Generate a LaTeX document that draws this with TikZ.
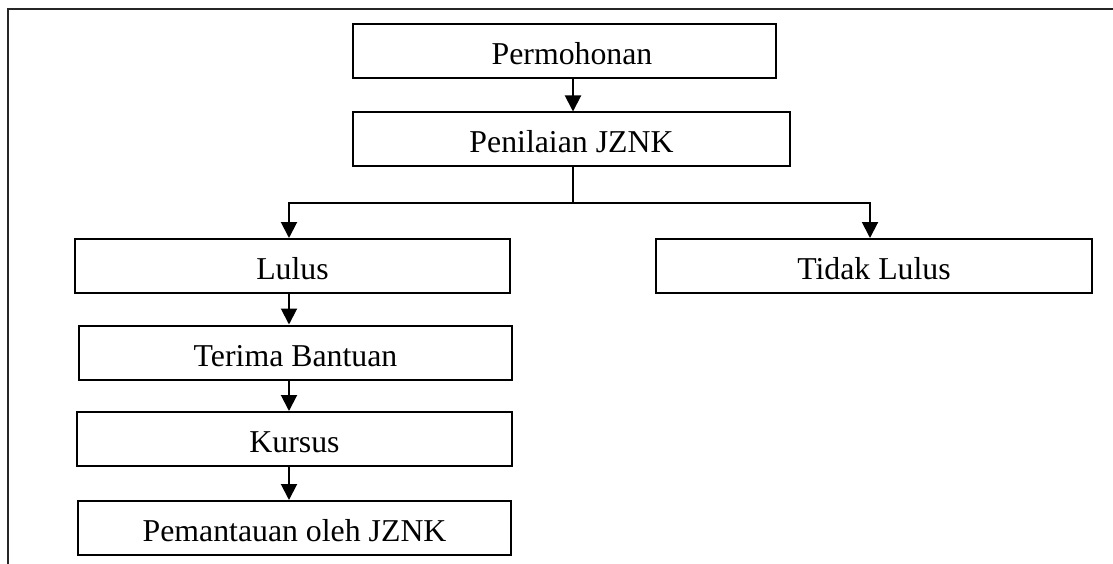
\documentclass[tikz,border=0pt]{standalone}
\usepackage{fontspec}
\setmainfont{Liberation Serif}
\usetikzlibrary{arrows.meta}
\begin{document}
\begin{tikzpicture}[x=1pt,y=-1pt,
  boxnode/.style={draw=black, line width=2pt, rectangle, inner sep=0pt,
    minimum height=54pt, text height=27pt, text depth=0pt,
    font=\fontsize{31.8}{38}\selectfont},
  conn/.style={draw=black, line width=2pt},
  arr/.style={conn, -{Triangle[length=16pt,width=16pt]}},
  frameline/.style={draw=black!85, line width=2.6pt}]
\useasboundingbox (0,0) rectangle (1113,564);
\draw[frameline] (1113,9) -- (8,9) -- (8,564);

\node[boxnode, minimum width=423pt] (perm) at (564.5,51.5) {\hspace*{15pt}Permohonan};
\node[boxnode, minimum width=437pt] (pen) at (571.5,139.5) {Penilaian JZNK};
\node[boxnode, minimum width=435pt] (lulus) at (292.5,266) {Lulus};
\node[boxnode, minimum width=436pt] (tidak) at (874,266) {Tidak Lulus};
\node[boxnode, minimum width=433pt] (terima) at (295.5,352.5) {Terima Bantuan};
\node[boxnode, minimum width=435pt] (kursus) at (294.5,439) {Kursus};
\node[boxnode, minimum width=433pt] (pantau) at (294.5,528) {Pemantauan oleh JZNK};

\coordinate (c1) at (573,0);
\coordinate (cl) at (289,0);
\coordinate (cr) at (870,0);
\coordinate (jy) at (0,203);

\draw[arr] (perm.south -| c1) -- (pen.north -| c1);
\draw[conn] (pen.south -| c1) -- (jy -| c1);
\draw[arr] (jy -| c1) -- (jy -| cl) -- (lulus.north -| cl);
\draw[arr] (jy -| c1) -- (jy -| cr) -- (tidak.north -| cr);
\draw[arr] (lulus.south -| cl) -- (terima.north -| cl);
\draw[arr] (terima.south -| cl) -- (kursus.north -| cl);
\draw[arr] (kursus.south -| cl) -- (pantau.north -| cl);
\end{tikzpicture}
\end{document}
